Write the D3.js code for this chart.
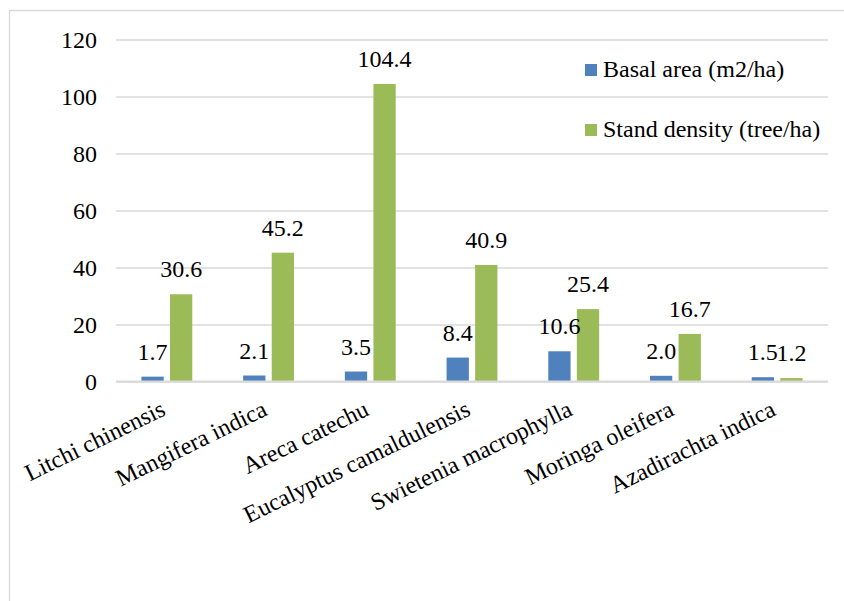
<!DOCTYPE html>
<html>
<head>
<meta charset="utf-8">
<script src="https://cdn.jsdelivr.net/npm/d3@7"></script>
<style>
  html, body { margin: 0; padding: 0; background: #fff; }
  svg { display: block; }
</style>
</head>
<body>
<svg id="chart" width="844" height="601"></svg>
<script>
// Species and the two measured series
const categories = [
  "Litchi chinensis", "Mangifera indica", "Areca catechu",
  "Eucalyptus camaldulensis", "Swietenia macrophylla",
  "Moringa oleifera", "Azadirachta indica"
];
const basalArea = [1.7, 2.1, 3.5, 8.4, 10.6, 2.0, 1.5];
const standDensity = [30.6, 45.2, 104.4, 40.9, 25.4, 16.7, 1.2];
const seriesNames = ["Basal area (m2/ha)", "Stand density (tree/ha)"];
const seriesColors = ["#4F81BD", "#9BBB59"];
const yTicks = [0, 20, 40, 60, 80, 100, 120];

const series = [basalArea, standDensity];

const FONT = "Liberation Serif, Times New Roman, Times, DejaVu Serif, serif";
const svg = d3.select("#chart")
  .style("font-family", FONT);
const W = 844, H = 601;
const plot = { left: 116, right: 828, top: 39.5, bottom: 381.5 };
const fontSize = 24;

// outer frame of the chart area
svg.append("path")
  .attr("d", `M9.5,${H} V10.5 H${W}`)
  .attr("fill", "none")
  .attr("stroke", "#d9d9d9")
  .attr("stroke-width", 1.3);

const x0 = d3.scaleBand()
  .domain(categories)
  .range([plot.left, plot.right])
  .padding(0);

const bw = x0.bandwidth();
const x1 = d3.scaleBand()
  .domain(d3.range(series.length))
  .range([bw * 0.25, bw * 0.75])
  .paddingInner(0.22)
  .paddingOuter(0);

const y = d3.scaleLinear()
  .domain([0, 120])
  .range([plot.bottom, plot.top]);

// horizontal gridlines
const yAxis = d3.axisLeft(y)
  .tickValues(yTicks)
  .tickSize(-(plot.right - plot.left))
  .tickPadding(19)
  .tickFormat(d3.format("d"));

const gy = svg.append("g")
  .attr("transform", `translate(${plot.left},0)`)
  .call(yAxis)
  .attr("font-family", null)
  .attr("font-size", fontSize);
gy.select(".domain").remove();
gy.selectAll(".tick line")
  .attr("stroke", "#d9d9d9")
  .attr("stroke-width", 1.5);
gy.selectAll(".tick text")
  .style("font-family", FONT)
  .attr("fill", "#000")
  .attr("dy", "0.34em");

// bars
const groups = svg.append("g")
  .selectAll("g")
  .data(categories)
  .join("g")
  .attr("transform", d => `translate(${x0(d)},0)`);

groups.selectAll("rect")
  .data((d, i) => series.map((s, k) => ({ k, v: s[i] })))
  .join("rect")
  .attr("x", d => x1(d.k))
  .attr("width", x1.bandwidth())
  .attr("y", d => y(d.v))
  .attr("height", d => y(0) - y(d.v))
  .attr("fill", d => seriesColors[d.k]);

// value labels
groups.selectAll("text.val")
  .data((d, i) => series.map((s, k) => ({ k, v: s[i] })))
  .join("text")
  .attr("class", "val")
  .attr("x", d => x1(d.k) + x1.bandwidth() / 2)
  .attr("y", d => y(d.v) - 17)
  .attr("text-anchor", "middle")
  .style("font-family", FONT)
  .attr("font-size", fontSize)
  .text(d => d.v.toFixed(1));

// baseline
svg.append("line")
  .attr("x1", plot.left).attr("x2", plot.right)
  .attr("y1", y(0)).attr("y2", y(0))
  .attr("stroke", "#d9d9d9")
  .attr("stroke-width", 2);

// rotated category labels
svg.append("g")
  .selectAll("text")
  .data(categories)
  .join("text")
  .attr("text-anchor", "end")
  .style("font-family", FONT)
  .attr("font-size", fontSize)
  .attr("transform", d => `translate(${x0(d) + bw / 2},${plot.bottom + 33}) rotate(-26)`)
  .text(d => d);

// legend
const legend = svg.append("g")
  .selectAll("g")
  .data(seriesNames)
  .join("g")
  .attr("transform", (d, i) => `translate(585,${64 + i * 60})`);

legend.append("rect")
  .attr("width", 12).attr("height", 12)
  .attr("fill", (d, i) => seriesColors[i]);

legend.append("text")
  .attr("x", 18)
  .attr("y", 13)
  .style("font-family", FONT)
  .attr("font-size", fontSize)
  .text(d => d);
</script>
</body>
</html>
